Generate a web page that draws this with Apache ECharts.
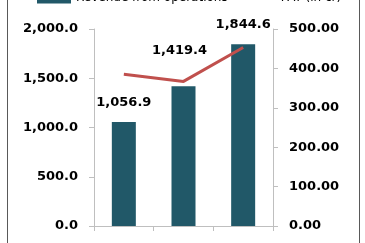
<!DOCTYPE html>
<html><head><meta charset="utf-8">
<script src="https://cdn.jsdelivr.net/npm/echarts@6/dist/echarts.min.js"></script>
<style>
html,body{margin:0;padding:0;background:#fff;overflow:hidden}
#c{position:absolute;left:0;top:0;width:365px;height:243px}
#b{position:absolute;left:7px;top:-20px;width:351px;height:280px;border:1px solid #595959;pointer-events:none}
</style></head><body>
<div id="c"></div><div id="b"></div>
<script>
const categories = ['FY1', 'FY2', 'FY3'];
const revenue = [1056.9, 1419.4, 1844.6];
const pat = [385, 367, 453];
const leftTicks = [0, 500, 1000, 1500, 2000];
const rightTicks = [0, 100, 200, 300, 400, 500];
const revenueName = 'Revenue from operations';
const patName = 'PAT (in cr)';

const chart = echarts.init(document.getElementById('c'));
const axisLine = {show:true, lineStyle:{color:'#bfbfbf', width:1}};
const fontFamily = 'DejaVu Sans';
chart.setOption({
  animation:false,
  legend:{
    orient:'horizontal', left:37, top:-8, width:330, itemWidth:34, itemHeight:11, itemGap:13, padding:0,
    textStyle:{fontFamily, fontSize:12, color:'#000'},
    data:[{name:revenueName, icon:'rect'}, {name:patName, itemStyle:{opacity:0}}]
  },
  grid:{left:94, right:92, top:29, bottom:17},
  xAxis:{type:'category', data:categories,
    axisLine, axisTick:{show:true, length:5, lineStyle:{color:'#bfbfbf'}},
    axisLabel:{show:false}},
  yAxis:[
    {type:'value', min:leftTicks[0], max:leftTicks[leftTicks.length-1], interval:leftTicks[1]-leftTicks[0],
     axisLine, axisTick:{show:true, length:5, lineStyle:{color:'#bfbfbf'}}, splitLine:{show:false},
     axisLabel:{margin:16, fontFamily, fontWeight:'bold', fontSize:13, color:'#000',
       formatter:v=>v.toLocaleString('en-US',{minimumFractionDigits:1, maximumFractionDigits:1})}},
    {type:'value', position:'right', min:rightTicks[0], max:rightTicks[rightTicks.length-1], interval:rightTicks[1]-rightTicks[0],
     axisLine, axisTick:{show:true, length:5, lineStyle:{color:'#bfbfbf'}}, splitLine:{show:false},
     axisLabel:{margin:16, fontFamily, fontWeight:'bold', fontSize:13, color:'#000',
       formatter:v=>v.toFixed(2)}}
  ],
  series:[
    {name:revenueName, type:'bar', yAxisIndex:0, barWidth:24,
     itemStyle:{color:'#215868'},
     data:revenue.map((v,i)=>({value:v, label: i===1 ? {distance:29, offset:[-4,0]} : {}})),
     label:{show:true, position:'top', distance:13, fontFamily, fontWeight:'bold', fontSize:13, color:'#000',
       formatter:p=>p.value.toLocaleString('en-US',{minimumFractionDigits:1, maximumFractionDigits:1})}},
    {name:patName, type:'line', yAxisIndex:1, data:pat, symbol:'none',
     lineStyle:{color:'#C0504D', width:3}, itemStyle:{color:'#C0504D'}, z:5}
  ]
});
</script></body></html>
